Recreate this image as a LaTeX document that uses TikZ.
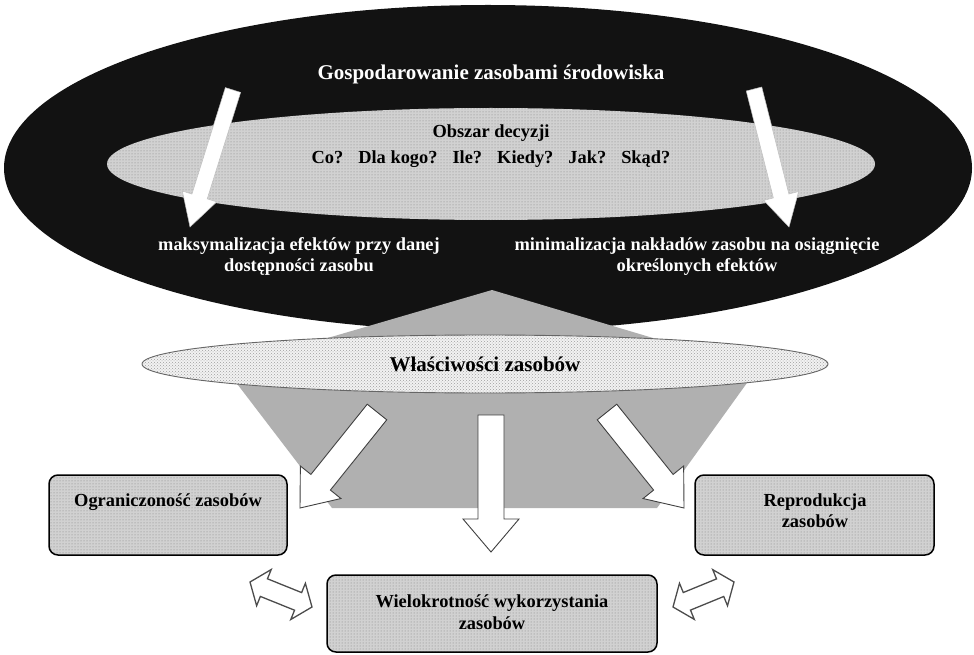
\documentclass[tikz,border=0pt]{standalone}
\usepackage{fontspec}
\setmainfont{Liberation Serif}
\usetikzlibrary{calc,patterns,shapes.geometric}
\tikzset{
  finefill/.style={preaction={fill=gray!36}, pattern=dots, pattern color=black!50},
  coarsefill/.style={preaction={fill=gray!10}, pattern=crosshatch dots, pattern color=gray!75},
  boxnode/.style={draw=black, line width=1.5pt, rounded corners=9pt, finefill, inner sep=0pt},
  wtext/.style={text=white, font=\bfseries\fontsize{18.4}{22}\selectfont, inner sep=0pt, align=center},
  btext/.style={text=black, font=\bfseries\fontsize{18.4}{22}\selectfont, inner sep=0pt, align=center},
  bigtext/.style={font=\bfseries\fontsize{21}{25}\selectfont, inner sep=0pt},
  whitearrow/.style={fill=white, draw=black!75, line width=0.9pt, line join=miter},
  toparrow/.style={fill=white, draw=gray!50, line width=0.5pt, line join=miter},
  dblarrow/.style={fill=white, draw=black!70, line width=1.3pt, line join=miter},
}
% block arrow: style, start, tip, shaft half width, head half width, head length
\newcommand\blockarr[6]{%
  \coordinate (bH) at ($(#3)!#6!(#2)$);
  \draw[#1] ($(#2)!#4!90:(#3)$) -- ($(bH)!#4!90:(#3)$) -- ($(bH)!#5!90:(#3)$) -- (#3)
    -- ($(bH)!#5!-90:(#3)$) -- ($(bH)!#4!-90:(#3)$) -- ($(#2)!#4!-90:(#3)$) -- cycle;
}
% double arrow: style, tip1, tip2, shaft half width, head half width, head length
\newcommand\dblarr[6]{%
  \coordinate (dHa) at ($(#2)!#6!(#3)$);
  \coordinate (dHb) at ($(#3)!#6!(#2)$);
  \draw[#1] (#2) -- ($(dHa)!#5!90:(#3)$) -- ($(dHa)!#4!90:(#3)$) -- ($(dHb)!#4!-90:(#2)$)
    -- ($(dHb)!#5!-90:(#2)$) -- (#3) -- ($(dHb)!#5!90:(#2)$) -- ($(dHb)!#4!90:(#2)$)
    -- ($(dHa)!#4!-90:(#3)$) -- ($(dHa)!#5!-90:(#3)$) -- cycle;
}
\begin{document}
\begin{tikzpicture}[x=1pt,y=-1pt]
\useasboundingbox (0,0) rectangle (974,655);
\fill[white] (0,0) rectangle (974,655);

% top black ellipse
\node[ellipse, fill=black!93, minimum width=968pt, minimum height=326pt, inner sep=0pt] (outer) at (488,168) {};
% inner decision ellipse
\node[ellipse, finefill, minimum width=768pt, minimum height=112pt, inner sep=0pt] (inner) at (491,164) {};

\node[bigtext, text=white, anchor=base] (title) at (491,80) {Gospodarowanie zasobami środowiska};
\node[btext, anchor=base] (obszar) at (491,138) {Obszar decyzji};
\node[btext, anchor=base] (pytania) at (491,164) {Co?\hspace{15pt}Dla kogo?\hspace{15pt}Ile?\hspace{15pt}Kiedy?\hspace{15pt}Jak?\hspace{15pt}Skąd?};

% top arrows
\coordinate (ta1s) at (233,90);  \coordinate (ta1t) at (190,227);
\coordinate (ta2s) at (754,89);  \coordinate (ta2t) at (789,227);
\blockarr{toparrow}{ta1s}{ta1t}{8pt}{18pt}{32pt}
\blockarr{toparrow}{ta2s}{ta2t}{8pt}{18pt}{32pt}

\node[wtext, anchor=base] (maks1) at (299,250) {maksymalizacja efektów przy danej};
\node[wtext, anchor=base] (maks2) at (299,271) {dostępności zasobu};
\node[wtext, anchor=base] (min1) at (697,250) {minimalizacja nakładów zasobu na osiągnięcie};
\node[wtext, anchor=base] (min2) at (697,271) {określonych efektów};

% grey funnel
\coordinate (g1) at (492,290); \coordinate (g2) at (225,368); \coordinate (g3) at (332,508);
\coordinate (g4) at (657,508); \coordinate (g5) at (757,369);
\fill[gray!62] (g1) -- (g2) -- (g3) -- (g4) -- (g5) -- cycle;

% middle ellipse
\node[ellipse, coarsefill, draw=gray!80!black, line width=0.9pt, minimum width=686pt, minimum height=58pt, inner sep=0pt] (wlasc) at (485,364) {};
\node[bigtext, anchor=base] (wlasct) at (485,371) {Właściwości zasobów};

% middle arrows
\coordinate (ma1s) at (377,412); \coordinate (ma1t) at (300,508);
\coordinate (ma2s) at (491,415); \coordinate (ma2t) at (491,552);
\coordinate (ma3s) at (607,412); \coordinate (ma3t) at (684,508);
\blockarr{whitearrow}{ma1s}{ma1t}{12.5pt}{26pt}{33pt}
\blockarr{whitearrow}{ma2s}{ma2t}{13pt}{28pt}{33pt}
\blockarr{whitearrow}{ma3s}{ma3t}{12.5pt}{26pt}{33pt}

% boxes
\node[boxnode, minimum width=238pt, minimum height=80pt] (ogr) at (168,515) {};
\node[btext, anchor=base] (ogrt) at (168,506) {Ograniczoność zasobów};
\node[boxnode, minimum width=239pt, minimum height=80pt] (rep) at (814.5,515) {};
\node[btext, anchor=base] (rept1) at (815,506) {Reprodukcja};
\node[btext, anchor=base] (rept2) at (815,527) {zasobów};
\node[boxnode, minimum width=330pt, minimum height=77pt] (wiel) at (492,613.5) {};
\node[btext, anchor=base] (wielt1) at (492,607) {Wielokrotność wykorzystania};
\node[btext, anchor=base] (wielt2) at (492,629) {zasobów};

% double arrows
\coordinate (da1a) at (250,582); \coordinate (da1b) at (312,607);
\coordinate (da2a) at (673,607); \coordinate (da2b) at (734,582);
\dblarr{dblarrow}{da1a}{da1b}{9.5pt}{19.5pt}{15pt}
\dblarr{dblarrow}{da2a}{da2b}{9.5pt}{19.5pt}{15pt}
\end{tikzpicture}
\end{document}
